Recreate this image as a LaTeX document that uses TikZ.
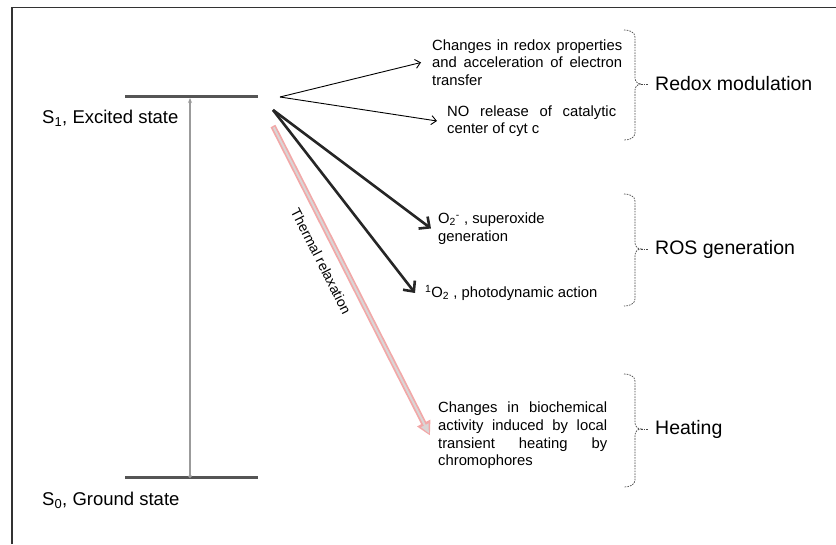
\documentclass[tikz,border=0pt]{standalone}
\usepackage{fontspec}
\setmainfont{Liberation Sans}
\setlength{\parindent}{0pt}
\definecolor{levelgray}{RGB}{85,85,85}
\definecolor{pumpgray}{RGB}{155,155,155}
\definecolor{heatpink}{RGB}{242,168,168}
\definecolor{heatfill}{RGB}{218,213,213}
\definecolor{bracegray}{RGB}{70,70,70}
\usetikzlibrary{arrows.meta,positioning}
\tikzset{
  level/.style={line width=3pt, levelgray},
  thinarr/.style={line width=0.9pt, -{Straight Barb[length=5pt,width=9pt]}},
  thickarr/.style={line width=2.6pt, black!85, -{Straight Barb[length=8pt,width=15pt]}},
  statetxt/.style={inner sep=0pt, anchor=west, font=\fontsize{18.5}{22}\selectfont},
  bodytxt/.style={inner sep=0pt, anchor=west, align=left, font=\fontsize{14.8}{17.6}\selectfont},
  grouptxt/.style={inner sep=0pt, anchor=west, font=\fontsize{19.5}{23}\selectfont},
  brk/.style={line width=0.7pt, bracegray, dash pattern=on 1.6pt off 1.1pt},
}

\begin{document}
\begin{tikzpicture}[x=1pt, y=1pt]
    \useasboundingbox (0,0) rectangle (836,544);
    % frame
    \draw[line width=1.2pt, black!80] (12,0) -- (12,536.5) -- (836,536.5);

    % energy levels
    \coordinate (s1a) at (125,447);
    \coordinate (s1b) at (258,447);
    \coordinate (s0a) at (125,66);
    \coordinate (s0b) at (258,66);
    \draw[level] (s1a) -- (s1b);
    \draw[level] (s0a) -- (s0b);
    \node[statetxt] (s1) at (42,426) {S\textsubscript{1}, Excited state};
    \node[statetxt] (s0) at (42,44) {S\textsubscript{0}, Ground state};

    % excitation
    \coordinate (pump0) at (190,66);
    \coordinate (pump1) at (190,446);
    \draw[line width=1.2pt, pumpgray, {Circle[length=3.5pt]}-{Stealth[length=5pt,width=4pt]}] (pump0) -- (pump1);

    % starting points of the decay paths
    \coordinate (fan) at (280,447);
    \coordinate (ros) at (273,434);
    \coordinate (therm) at (273,418);

    % outcomes
    \node[bodytxt, text width=190pt, align=justify] (redoxA) at (432,481.5) {Changes in redox properties\linebreak and acceleration of electron\linebreak transfer};
    \node[bodytxt, text width=169pt, align=justify] (noRel) at (447,423) {NO release of catalytic\linebreak center of cyt c};
    \node[bodytxt] (superox) at (438,315.5) {O\textsubscript{2}\textsuperscript{-} , superoxide\\generation};
    \node[bodytxt] (singlet) at (425,251) {\textsuperscript{1}O\textsubscript{2} , photodynamic action};
    \node[bodytxt, text width=169pt, align=justify] (heatTxt) at (438,108.5) {Changes in biochemical\linebreak activity induced by local\linebreak transient heating by\linebreak chromophores};

    \draw[thinarr] (fan) -- ([xshift=-11pt]redoxA.west);
    \draw[thinarr] (fan) -- ([xshift=-10pt]noRel.west);
    \draw[thickarr] (ros) -- ([xshift=-7pt]superox.west);
    \draw[thickarr] (ros) -- ([xshift=-10pt]singlet.west);
    \draw[line width=5.5pt, heatpink, -{Triangle[length=14pt,width=14pt]}] (therm) -- ([xshift=-8pt]heatTxt.west)
        node[sloped, below=7pt, pos=.41, text=black, font=\fontsize{14}{16}\selectfont] (thermLbl) {Thermal relaxation};
    \draw[line width=2pt, heatfill, shorten >=2.5pt, shorten <=1.5pt, -{Triangle[length=9pt,width=8pt]}] (therm) -- ([xshift=-8pt]heatTxt.west);

    % group brackets
    \draw[brk] (624,514) to[out=0,in=90] (635,507) -- (635,466) to[out=-90,in=180] (641,460) coordinate (rdxCusp)
        to[out=180,in=90] (635,454) -- (635,411) to[out=-90,in=0] (624,404);
    \node[grouptxt] (redoxMod) at (655,460) {Redox modulation};
    \draw[brk] (rdxCusp) -- ([xshift=-6pt]redoxMod.west);

    \draw[brk] (624,350) to[out=0,in=90] (635,343) -- (635,301) to[out=-90,in=180] (641,295) coordinate (rosCusp)
        to[out=180,in=90] (635,289) -- (635,245) to[out=-90,in=0] (624,238);
    \node[grouptxt] (rosGen) at (655,295) {ROS generation};
    \draw[brk] (rosCusp) -- ([xshift=-6pt]rosGen.west);

    \draw[brk] (624,170) to[out=0,in=90] (635,163) -- (635,121) to[out=-90,in=180] (641,115) coordinate (heatCusp)
        to[out=180,in=90] (635,109) -- (635,64) to[out=-90,in=0] (624,57);
    \node[grouptxt] (heating) at (655,115) {Heating};
    \draw[brk] (heatCusp) -- ([xshift=-6pt]heating.west);
\end{tikzpicture}
\end{document}
